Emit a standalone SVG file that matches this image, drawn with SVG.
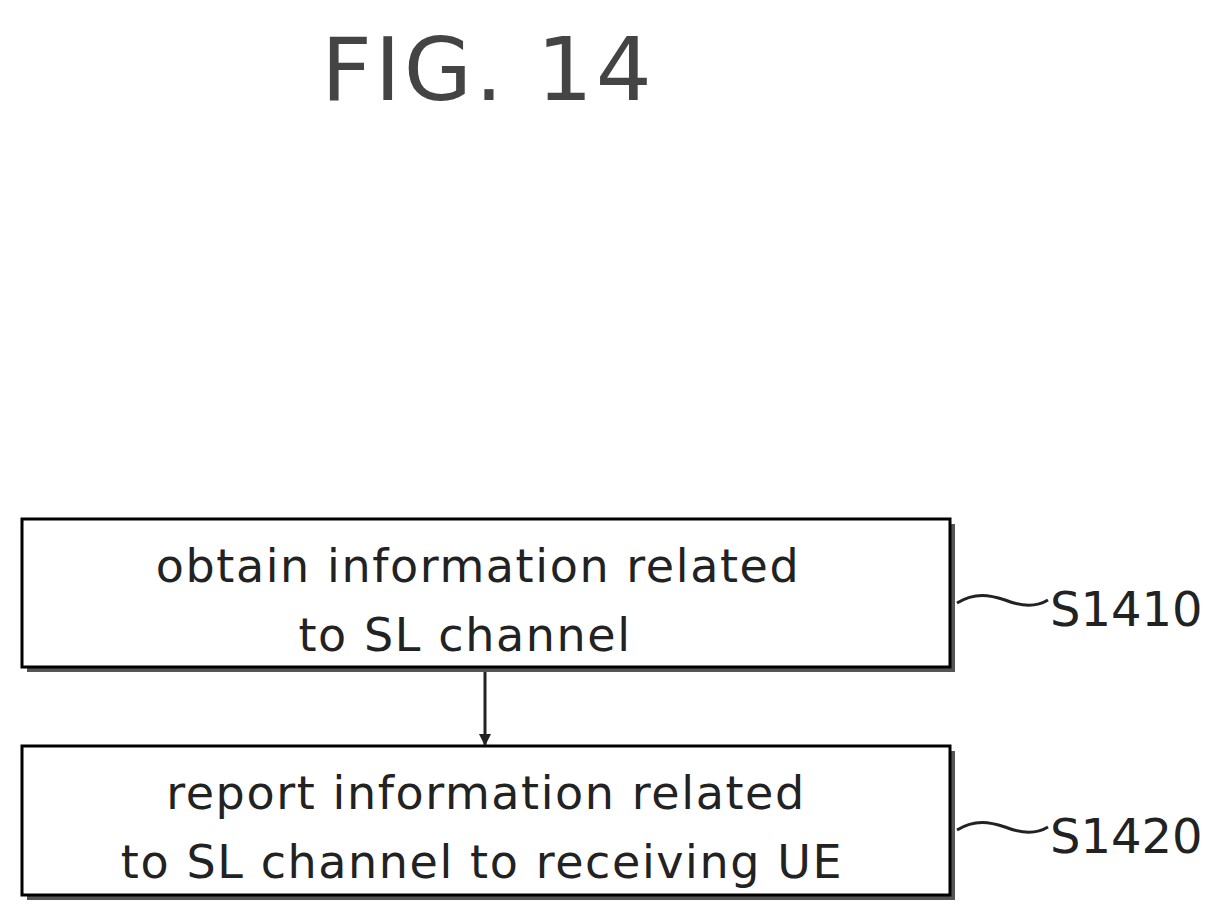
<svg xmlns="http://www.w3.org/2000/svg" width="1221" height="924" viewBox="0 0 1221 924">
<style>
.box{fill:#fff;stroke:#000;stroke-width:3}
.sh{fill:#555}
.t{font-family:"DejaVu Sans",sans-serif;font-size:46px;fill:#222;text-anchor:middle;letter-spacing:1.6px}
.lab{font-family:"DejaVu Sans",sans-serif;font-size:48px;fill:#222}
.c{fill:none;stroke:#222;stroke-width:3}
</style>
<defs><marker id="a" markerWidth="12" markerHeight="12" refX="11" refY="6" orient="auto" markerUnits="userSpaceOnUse"><path d="M0,0 L12,6 L0,12 Z" fill="#222"/></marker></defs>
<rect width="1221" height="924" fill="#fff"/>
<text x="488" y="100" font-family="DejaVu Sans,sans-serif" font-size="88" fill="#444" text-anchor="middle" letter-spacing="3">FIG. 14</text>
<g id="n1">
<rect class="sh" x="27" y="524" width="928" height="148"/>
<rect class="box" x="22" y="519" width="928" height="148"/>
<text class="t" x="478" y="582">obtain information related</text>
<text class="t" x="465" y="651">to SL channel</text>
</g>
<g id="n2">
<rect class="sh" x="27" y="751" width="928" height="149"/>
<rect class="box" x="22" y="746" width="928" height="149"/>
<text class="t" x="486" y="809">report information related</text>
<text class="t" x="482" y="878">to SL channel to receiving UE</text>
</g>
<g id="l1"><text class="lab" x="1050" y="626">S1410</text></g>
<g id="l2"><text class="lab" x="1050" y="853">S1420</text></g>
<g id="connectors">
<line class="c" x1="485" y1="672" x2="485" y2="745" marker-end="url(#a)"/>
<path class="c" d="M957,603 C975,592 990,595 1005,600 C1020,606 1035,608 1048,600"/>
<path class="c" d="M957,830 C975,819 990,822 1005,827 C1020,833 1035,835 1048,827"/>
</g>
</svg>
